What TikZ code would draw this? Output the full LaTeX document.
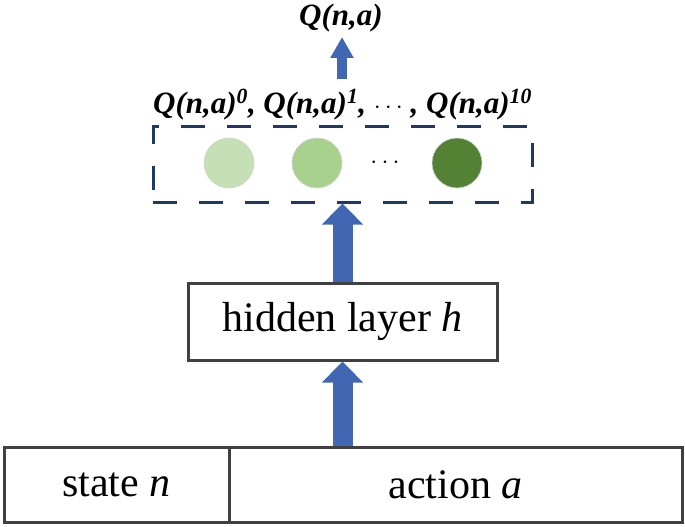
\documentclass[tikz,border=0pt]{standalone}
\usepackage{fontspec}
\setmainfont{Liberation Serif}
\usetikzlibrary{arrows.meta}
\definecolor{arrowblue}{HTML}{4267B2}
\definecolor{navy}{HTML}{203864}
\definecolor{boxgray}{HTML}{404040}
\definecolor{gA}{HTML}{C5E0B4}
\definecolor{gB}{HTML}{A9D18E}
\definecolor{gC}{HTML}{548235}
\begin{document}
\begin{tikzpicture}[x=1pt,y=-1pt,
  plainbox/.style={draw=boxgray,line width=3pt,minimum height=75pt,inner sep=0pt,font=\fontsize{42}{48}\selectfont},
  dashbox/.style={draw=navy,line width=3pt,dash pattern=on 24pt off 22pt,minimum width=379pt,minimum height=76pt,inner sep=0pt},
  qcircle/.style={circle,minimum size=50pt,inner sep=0pt,draw=gray!35,line width=0.6pt},
  qlabel/.style={font=\fontsize{31}{36}\selectfont\bfseries\itshape,inner sep=0pt},
  bigarrow/.style={draw=arrowblue,line width=20pt,-{Triangle[width=40pt,length=21pt]}},
  smallarrow/.style={draw=arrowblue,line width=10pt,-{Triangle[width=22pt,length=21pt]}}
]
\useasboundingbox (0,0) rectangle (685,527);
% bottom input boxes
\node[plainbox,minimum width=225pt] (state) at (116.5,484.5) {state \textit{n}};
\node[plainbox,minimum width=453pt] (action) at (455.5,484.5) {action \textit{a}};
% hidden layer
\node[plainbox,minimum width=309pt,minimum height=77pt] (hidden) at (342.5,321.5) {hidden layer \textit{h}};
% output layer
\node[dashbox] (out) at (342.5,164) {};
\node[qcircle,fill=gA] (c0) at (229,163) {};
\node[qcircle,fill=gB] (c1) at (317,163) {};
\node[font=\fontsize{30}{34}\selectfont,inner sep=0pt] (dots) at (385,163) {$\cdots$};
\node[qcircle,fill=gC] (c10) at (457,163) {};
% labels
\node[qlabel,anchor=base] (labels) at (342.5,113) {Q(n,a)\textsuperscript{0}, Q(n,a)\textsuperscript{1}, \textmd{$\cdots$} , Q(n,a)\textsuperscript{10}};
\node[qlabel,anchor=base] (topq) at (341,26) {Q(n,a)};
% arrows
\draw[bigarrow] (action.north -| hidden.south) -- (hidden.south);
\draw[bigarrow] (hidden.north) -- (out.south);
\coordinate (tA) at (342,79);
\coordinate (tB) at (342,37);
\draw[smallarrow] (tA) -- (tB);
\end{tikzpicture}
\end{document}
